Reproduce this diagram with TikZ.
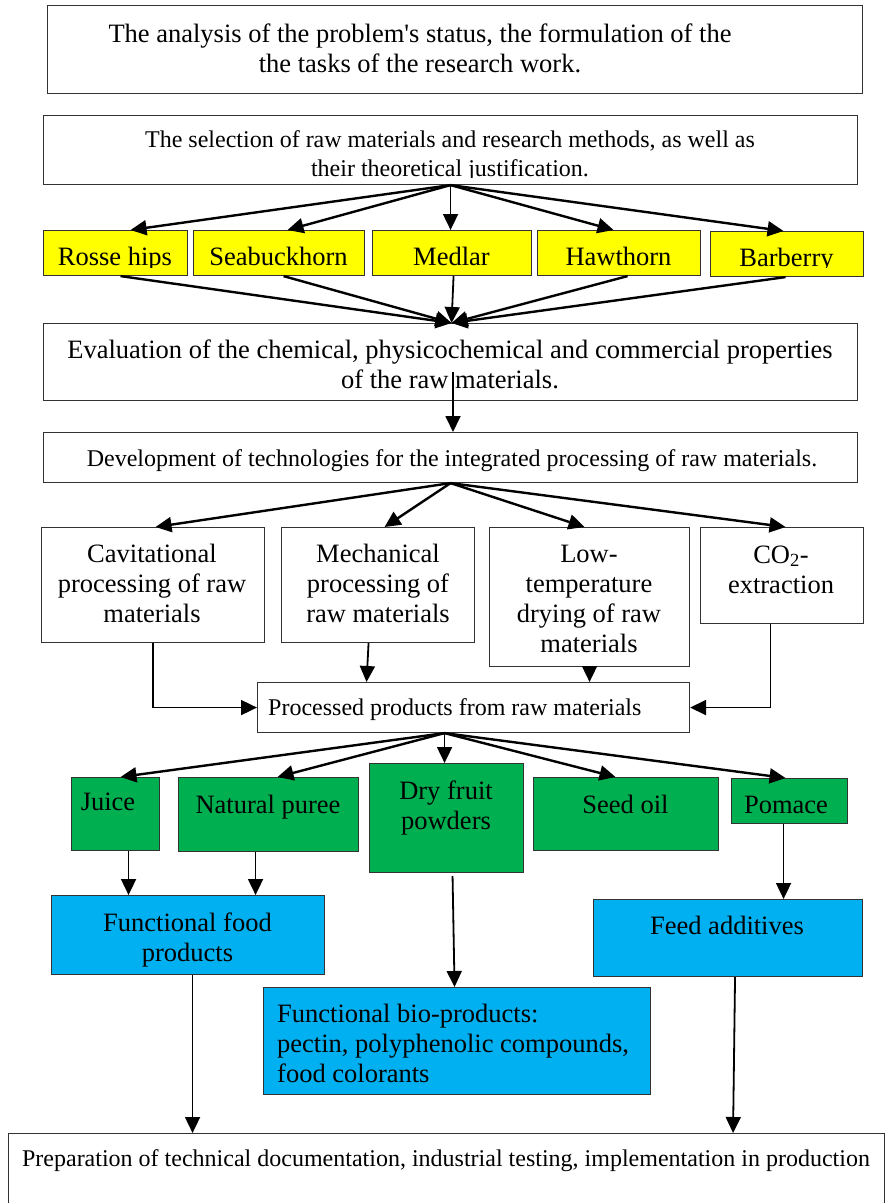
\documentclass[tikz,border=0pt]{standalone}
\usepackage{fontspec}
\setmainfont{Liberation Serif}[Ligatures=TeXOff]
\usetikzlibrary{arrows.meta,calc}
\definecolor{rawyellow}{HTML}{FFFF00}
\definecolor{prodgreen}{HTML}{00B050}
\definecolor{useblue}{HTML}{00B0F0}
\tikzset{
  box/.style={draw=black!80, line width=1.1pt, inner sep=0pt, anchor=north west, rectangle},
  big/.style={font=\fontsize{26.5}{30}\selectfont, inner sep=0pt, align=center},
  small/.style={font=\fontsize{24}{29}\selectfont, inner sep=0pt, align=center},
  tip/.style={-{Triangle[length=16pt,width=15pt]}},
  arr/.style={tip, line width=2.4pt},
  varr/.style={tip, line width=1.8pt},
}
\begin{document}
\begin{tikzpicture}[x=1pt,y=-1pt]
\fill[white] (0,0) rectangle (888,1203);
\useasboundingbox (0,0) rectangle (888,1203);

% ---- research stages (multi-line texts are placed by their last baseline)
\node[box, minimum width=815pt, minimum height=88pt] (task) at (47,5) {};
\node[big, anchor=base] (tasktext) at (420,72)
  {The analysis of the problem's status, the formulation of the\\the tasks of the research work.};

\node[box, minimum width=814pt, minimum height=69pt] (sel) at (43,115) {};
\begin{scope}
  \clip (43,115) rectangle (857,177);
  \node[small, anchor=base] (seltext) at (450,176)
    {The selection of raw materials and research methods, as well as\\their theoretical justification.};
\end{scope}

% ---- raw materials ---------------------------------------------------
\node[box, fill=rawyellow, minimum width=144pt, minimum height=45pt] (rose) at (43,230) {};
\node[box, fill=rawyellow, minimum width=171pt, minimum height=45pt] (sea)  at (193,230) {};
\node[box, fill=rawyellow, minimum width=159pt, minimum height=45pt] (med)  at (372,230) {};
\node[box, fill=rawyellow, minimum width=163pt, minimum height=45pt] (haw)  at (537,230) {};
\node[box, fill=rawyellow, minimum width=153pt, minimum height=45pt] (bar)  at (710,231) {};
\begin{scope}
  \clip (43,230) rectangle (864,267);
  \node[big, anchor=base] (rosetext) at (115,265) {Rosse hips};
  \node[big, anchor=base] (seatext)  at (278.5,265) {Seabuckhorn};
  \node[big, anchor=base] (medtext)  at (451.5,265) {Medlar};
  \node[big, anchor=base] (hawtext)  at (618.5,265) {Hawthorn};
  \node[big, anchor=base] (bartext)  at (786.5,266) {Barberry};
\end{scope}

\draw[arr] (sel.south) -- ([xshift=15]rose.north);
\draw[arr] (sel.south) -- ([xshift=8.5]sea.north);
\draw[varr] (sel.south) -- ([xshift=-1.5]med.north);
\draw[arr] (sel.south) -- ([xshift=-5.5]haw.north);
\draw[arr] (sel.south) -- ([xshift=-3.5]bar.north);

\node[box, minimum width=814pt, minimum height=77pt] (ev) at (43,323) {};
\node[big, anchor=base] (evtext) at (450,388)
  {Evaluation of the chemical, physicochemical and commercial properties\\of the raw materials.};

\draw[arr] ([xshift=5]rose.south) -- ([xshift=1]ev.north);
\draw[arr] ([xshift=4.5]sea.south) -- ([xshift=1]ev.north);
\draw[varr] ([xshift=1.5]med.south) -- ([xshift=1]ev.north);
\draw[arr] ([xshift=8.5]haw.south) -- ([xshift=1]ev.north);
\draw[arr] ([xshift=-1.5]bar.south) -- ([xshift=1]ev.north);

\node[box, minimum width=814pt, minimum height=50pt] (dev) at (43,432) {};
\node[small, anchor=base] (devtext) at (452,466)
  {Development of technologies for the integrated processing of raw materials.};

\coordinate (evdrop) at (453,372);
\draw[varr] (evdrop) -- (evdrop |- dev.north);

% ---- processing methods ----------------------------------------------
\node[box, minimum width=223pt, minimum height=115pt] (cav)  at (41,527) {};
\node[box, minimum width=193pt, minimum height=115pt] (mech) at (281,527) {};
\node[box, minimum width=200pt, minimum height=139pt] (low)  at (489,527) {};
\node[box, minimum width=163pt, minimum height=96pt]  (co2)  at (700,527) {};
\node[big, anchor=base] (cavtext)  at (152,622) {Cavitational\\processing of raw\\materials};
\node[big, anchor=base] (mechtext) at (378,622) {Mechanical\\processing of\\raw materials};
\node[big, anchor=base] (lowtext)  at (589,652) {Low-\\temperature\\drying of raw\\materials};
\node[big, anchor=base] (co2text)  at (781,593) {CO\textsubscript{2}-\\extraction};

\draw[arr] (dev.south) -- ([xshift=2.5]cav.north);
\draw[arr] (dev.south) -- ([xshift=6.5]mech.north);
\draw[arr] (dev.south) -- ([xshift=-5]low.north);
\draw[arr] (dev.south) -- ([xshift=3.5]co2.north);

\node[box, minimum width=432pt, minimum height=50pt] (proc) at (257,682) {};
\node[small, anchor=base west] (proctext) at (268,715) {Processed products from raw materials};

\draw[varr] (cav.south) |- (proc.west);
\draw[varr] ([xshift=-9.5]mech.south) -- ([xshift=-11.5]mech.south |- proc.north);
\draw[varr] (low.south) -- (low.south |- proc.north);
\draw[varr] ([xshift=-11.5]co2.south) |- (proc.east);

% ---- products --------------------------------------------------------
\node[box, fill=prodgreen, minimum width=88pt,  minimum height=73pt]  (juice) at (71,777) {};
\node[box, fill=prodgreen, minimum width=180pt, minimum height=74pt]  (puree) at (178,777) {};
\node[box, fill=prodgreen, minimum width=154pt, minimum height=109pt] (dry)   at (369,763) {};
\node[box, fill=prodgreen, minimum width=185pt, minimum height=73pt]  (seed)  at (533,777) {};
\node[box, fill=prodgreen, minimum width=116pt, minimum height=45pt]  (pom)   at (731,778) {};
\node[big, anchor=base] (juicetext) at (108,810) {Juice};
\node[big, anchor=base] (pureetext) at (268,813) {Natural puree};
\node[big, anchor=base] (drytext)   at (446,829) {Dry fruit\\powders};
\node[big, anchor=base] (seedtext)  at (625.5,813) {Seed oil};
\node[big, anchor=base] (pomtext)   at (786,813) {Pomace};

\coordinate (fan) at ([xshift=-29]proc.south);
\draw[arr] (fan) -- ([xshift=5]juice.north);
\draw[arr] (fan) -- ([xshift=9]puree.north);
\draw[varr] (fan) -- ([xshift=-2]dry.north);
\draw[arr] (fan) -- ([xshift=-10.5]seed.north);
\draw[arr] (fan) -- ([xshift=-4]pom.north);

% ---- applications ----------------------------------------------------
\node[box, fill=useblue, minimum width=273pt, minimum height=79pt]  (food) at (51,895) {};
\node[box, fill=useblue, minimum width=269pt, minimum height=77pt]  (feed) at (593,899) {};
\node[box, fill=useblue, minimum width=387pt, minimum height=107pt] (bio)  at (263,987) {};
\node[big, anchor=base] (foodtext) at (187.5,961) {Functional food\\products};
\node[big, anchor=base] (feedtext) at (727,934) {Feed additives};
\node[big, anchor=base west, align=left] (biotext) at (277,1082)
  {Functional bio-products:\\pectin, polyphenolic compounds,\\food colorants};

\draw[varr] ([xshift=13]juice.south) -- ([xshift=13]juice.south |- food.north);
\draw[varr] ([xshift=-13]puree.south) -- ([xshift=-13]puree.south |- food.north);
\draw[varr] ([xshift=6,yshift=-3]dry.south) -- ([xshift=8]dry.south |- bio.north);
\draw[varr] ([xshift=-6]pom.south) -- ([xshift=-6]pom.south |- feed.north);

% ---- implementation --------------------------------------------------
\node[box, minimum width=876pt, minimum height=110pt] (impl) at (8,1133) {};
\node[small, anchor=base] (impltext) at (446,1166)
  {Preparation of technical documentation, industrial testing, implementation in production};

\draw[varr] ([xshift=4.5]food.south) -- ([xshift=4.5]food.south |- impl.north);
\draw[varr] ([xshift=7]feed.south) -- ([xshift=5]feed.south |- impl.north);
\end{tikzpicture}
\end{document}
